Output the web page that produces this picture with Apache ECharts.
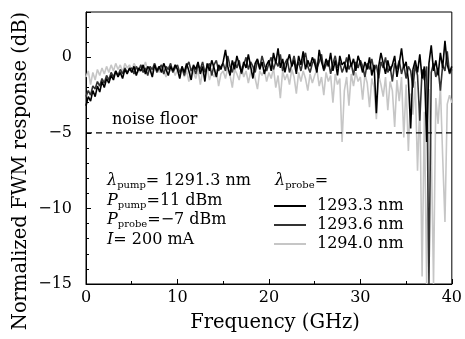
<!DOCTYPE html>
<html>
<head>
<meta charset="utf-8">
<script src="https://cdn.jsdelivr.net/npm/echarts@6/dist/echarts.min.js"></script>
<style>
  html, body { margin: 0; padding: 0; background: #fff; }
  #chart { width: 465px; height: 339px; }
</style>
</head>
<body>
<div id="chart"></div>
<script>
// frequency grid of the traces (GHz)
const FREQ_START = 0;
const FREQ_STEP = 0.25;

// normalized FWM response (dB), one value per 0.25 GHz, 0..40 GHz
const probe1293_3 = [
  -3.2, -2.6, -2.9, -2.2, -2.6, -1.9, -2.3, -1.6, -2.0, -1.4, -1.7, -1.2, -1.5, -0.9, -1.3, -1.0, -1.4, -0.8, -1.1, -0.7,
  -1.0, -0.6, -1.2, -0.7, -0.9, -0.5, -1.1, -0.6, -0.8, -1.3, -0.5, -0.9, -0.6, -1.0, -0.4, -0.8, -1.2, -0.6, -0.9, -0.5,
  -0.8, -1.4, -0.6, -1.0, -0.4, -0.9, -1.5, -0.5, -0.8, -0.3, -1.1, -0.6, -1.6, -0.4, -0.9, -0.2, -0.7, -1.3, -0.5, -0.8,
  -0.3, 0.5, -0.6, -1.2, -0.2, -0.8, 0.1, -0.5, -1.0, -0.3, -0.7, 0.2, -0.6, -1.4, -0.4, -0.1, -0.8, -0.3, -1.1, -0.5,
  -0.2, -0.9, 0.3, -0.4, 0.6, -0.7, -0.1, -1.0, -0.3, 0.2, -0.6, -0.2, -1.1, 0.1, -0.5, 0.4, -0.8, -0.2, -0.6, 0.0,
  -0.4, -1.0, 0.5, -0.3, -0.8, -0.1, -0.6, 0.3, -0.9, -0.2, -1.2, 0.1, -0.5, -0.3, -1.0, 0.2, -0.6, -0.1, -0.9, 0.1,
  -0.4, -1.0, -0.3, -0.8, 0.0, -1.2, -0.5, -3.7, -0.6, 0.3, -0.4, -1.1, -0.2, -0.9, -0.5, 0.1, -1.3, -0.4, 0.6, -0.7,
  -0.3, -1.5, -4.7, -0.8, -0.2, -1.0, 0.2, -1.4, -0.6, -5.6, -0.4, 0.8, -0.9, -0.2, -1.2, 0.3, -0.7, 1.1, -0.5, -1.0,
  -0.6
];
const probe1293_6 = [
  -2.6, -2.2, -2.5, -1.9, -2.1, -1.6, -1.9, -1.4, -1.7, -1.2, -1.5, -1.0, -1.3, -0.9, -1.2, -0.8, -1.1, -0.7, -1.0, -0.8,
  -0.7, -1.1, -0.6, -0.9, -0.5, -1.0, -0.7, -1.2, -0.6, -0.8, -0.4, -1.0, -0.7, -0.5, -1.1, -0.6, -0.8, -0.4, -1.0, -0.7,
  -0.5, -1.0, -0.7, -1.2, -0.6, -0.3, -0.9, -0.6, -1.1, -0.5, -0.8, -0.3, -1.0, -0.6, -0.4, -1.2, -0.5, -0.2, -0.9, -0.6,
  -0.4, -0.9, 0.1, -0.6, -1.0, -0.3, -0.7, -0.2, -1.1, -0.5, 0.0, -0.8, -0.3, -0.6, -1.0, -0.2, -0.7, 0.1, -0.5, -0.9,
  -0.4, 0.0, -0.8, -0.3, -0.6, 0.2, -0.9, -0.4, -0.1, -1.0, -0.5, 0.1, -0.7, -0.3, -0.9, -0.2, 0.3, -0.6, -1.0, -0.4,
  -0.1, -0.7, -0.3, 0.2, -0.9, -0.5, -0.2, -1.1, -0.4, 0.1, -0.7, -0.3, -1.0, -0.6, 0.0, -0.8, -0.4, -1.2, -0.3, -0.7,
  -0.2, -0.6, -1.3, -0.4, -0.8, -0.1, -0.9, -0.5, -1.4, -0.3, -0.7, 0.0, -1.0, -0.6, -1.6, -0.4, -0.8, -0.2, -1.1, -0.5,
  -1.4, -0.6, -0.9, -2.0, -0.5, -1.2, -4.2, -0.8, -1.5, -0.6, -15.0, -1.0, -0.4, -1.3, -0.7, -2.2, -0.5, -0.9, 0.4, -1.1,
  -0.8
];
const probe1294_0 = [
  -1.3, -0.9, -1.8, -1.0, -1.5, -0.8, -1.2, -0.7, -1.1, -0.6, -1.0, -0.5, -0.9, -0.4, -0.8, -0.5, -1.0, -0.4, -0.7, -0.5,
  -0.9, -0.4, -0.7, -1.0, -0.5, -0.8, -0.3, -0.9, -0.6, -1.1, -0.4, -0.7, -1.0, -0.5, -0.8, -1.3, -0.6, -0.9, -0.7, -1.2,
  -0.8, -1.1, -0.6, -1.3, -0.9, -1.6, -0.7, -1.0, -1.4, -0.8, -1.8, -0.9, -1.2, -0.7, -1.5, -1.0, -1.3, -0.8, -1.9, -1.1,
  -0.9, -1.4, -0.7, -1.2, -2.0, -0.8, -1.1, -1.5, -0.6, -1.3, -0.9, -1.7, -1.0, -0.7, -1.4, -2.1, -0.9, -1.2, -0.8, -1.6,
  -1.0, -1.4, -0.7, -2.0, -1.2, -2.7, -0.9, -1.5, -1.1, -1.8, -0.8, -1.3, -2.4, -1.0, -1.6, -0.9, -1.4, -2.2, -1.1, -1.7,
  -1.2, -0.8, -1.9, -1.3, -2.5, -1.0, -1.6, -1.2, -3.0, -1.1, -1.8, -1.4, -5.6, -2.2, -1.3, -3.2, -1.1, -1.9, -1.0, -1.6,
  -1.3, -2.8, -1.1, -1.7, -3.3, -1.4, -2.0, -4.1, -1.2, -1.8, -2.6, -1.3, -3.5, -1.6, -2.2, -4.6, -1.5, -2.9, -1.3, -5.3,
  -1.8, -6.2, -2.4, -3.8, -1.6, -7.5, -2.9, -14.5, -3.6, -15.0, -2.1, -5.8, -15.0, -2.7, -4.4, -1.9, -6.6, -10.9, -3.1, -2.5,
  -3.0
];

const seriesNames = ['1293.3 nm', '1293.6 nm', '1294.0 nm'];
const seriesColors = ['#000000', '#333333', '#c6c6c6'];
const noiseFloor = -5;
const xRange = [0, 40];
const yRange = [-15, 3];

const FONT = '"DejaVu Serif", serif';

function toPairs(values) {
  return values.map((v, i) => [FREQ_START + i * FREQ_STEP, v]);
}
const minus = (v) => String(v).replace('-', '\u2212');

const chart = echarts.init(document.getElementById('chart'), null, { renderer: 'canvas' });

// light trace first so the dark ones sit on top
const traces = [probe1294_0, probe1293_6, probe1293_3];
const traceNames = [seriesNames[2], seriesNames[1], seriesNames[0]];
const traceColors = [seriesColors[2], seriesColors[1], seriesColors[0]];

const series = traces.map((vals, i) => ({
  name: traceNames[i],
  type: 'line',
  data: toPairs(vals),
  symbol: 'none',
  color: traceColors[i],
  lineStyle: { color: traceColors[i], width: 1.6 },
  animation: false,
  z: 2 + i
}));

series.push({
  name: 'noise floor',
  type: 'line',
  data: [[xRange[0], noiseFloor], [xRange[1], noiseFloor]],
  symbol: 'none',
  lineStyle: { color: '#000', width: 1.2, type: [6, 4] },
  animation: false,
  z: 10
});

const rich = {
  n: { fontFamily: FONT, fontSize: 16, color: '#000', lineHeight: 18 },
  it: { fontFamily: FONT, fontSize: 16, fontStyle: 'italic', color: '#000', lineHeight: 18 },
  sub: { fontFamily: FONT, fontSize: 10, color: '#000', lineHeight: 12, verticalAlign: 'bottom', padding: [6, 0, 0, 0] }
};

function label(x, y, text) {
  return {
    type: 'text', x: x, y: y,
    style: { text: text, rich: rich, fontFamily: FONT, fontSize: 16, fill: '#000', verticalAlign: 'middle' }
  };
}

const option = {
  backgroundColor: '#fff',
  animation: false,
  grid: { left: 86, right: 12, top: 12, bottom: 55, show: true, borderColor: '#000', borderWidth: 1 },
  legend: {
    data: seriesNames,
    orient: 'vertical',
    left: 269,
    top: 193,
    icon: 'rect',
    itemWidth: 32,
    itemHeight: 2,
    itemGap: 3,
    selectedMode: false,
    textStyle: { fontFamily: FONT, fontSize: 16, color: '#000', lineHeight: 16, padding: [0, 0, 0, 6] }
  },
  xAxis: {
    type: 'value', min: xRange[0], max: xRange[1], interval: 10,
    axisLine: { onZero: false, lineStyle: { color: '#000', width: 1 } },
    axisTick: { inside: true, length: 5, lineStyle: { color: '#000' } },
    minorTick: { show: true, splitNumber: 2, length: 3, lineStyle: { color: '#000' } },
    axisLabel: { fontFamily: FONT, fontSize: 16, color: '#000', margin: 6 },
    splitLine: { show: false }
  },
  yAxis: [
    {
      type: 'value', min: yRange[0], max: yRange[1], interval: 1,
      axisLine: { onZero: false, lineStyle: { color: '#000', width: 1 } },
      axisTick: { inside: true, length: 3, lineStyle: { color: '#000' } },
      axisLabel: {
        fontFamily: FONT, fontSize: 16, color: '#000', margin: 14,
        formatter: (v) => (v % 5 === 0 ? minus(v) : '')
      },
      splitLine: { show: false }
    },
    {
      type: 'value', min: yRange[0], max: yRange[1], interval: 5, position: 'left',
      axisLine: { show: false, onZero: false },
      axisTick: { inside: true, length: 5, lineStyle: { color: '#000' } },
      axisLabel: { show: false },
      splitLine: { show: false }
    }
  ],
  graphic: [
    {
      type: 'text', x: 275, y: 323,
      style: { text: 'Frequency (GHz)', fontFamily: FONT, fontSize: 19.5, fill: '#000', align: 'center', verticalAlign: 'middle' }
    },
    {
      type: 'text', x: 21, y: 171, rotation: Math.PI / 2,
      style: { text: 'Normalized FWM response (dB)', fontFamily: FONT, fontSize: 19.5, fill: '#000', align: 'center', verticalAlign: 'middle' }
    },
    label(112, 120, '{n|noise floor}'),
    label(107, 181, '{it|\u03bb}{sub|pump}{n|= 1291.3 nm}'),
    label(107, 201, '{it|P}{sub|pump}{n|=11 dBm}'),
    label(107, 220, '{it|P}{sub|probe}{n|=\u22127 dBm}'),
    label(107, 240, '{it|I}{n|= 200 mA}'),
    label(275, 181, '{it|\u03bb}{sub|probe}{n|=}')
  ],
  series: series
};

chart.setOption(option);
</script>
</body>
</html>
